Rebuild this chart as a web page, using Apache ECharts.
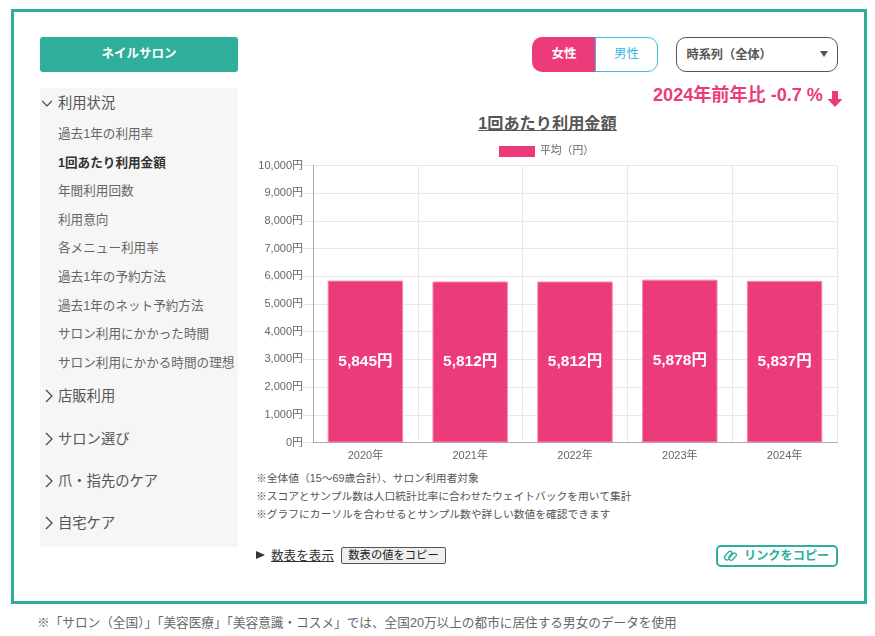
<!DOCTYPE html>
<html>
<head>
<meta charset="utf-8">
<title>1回あたり利用金額</title>
<script src="https://cdn.jsdelivr.net/npm/echarts@6/dist/echarts.min.js"></script>
<style>
html, body { margin: 0; padding: 0; background: #fff; }
body { position: relative; width: 875px; height: 636px; overflow: hidden;
  font-family: "Liberation Sans", "Noto Sans CJK JP", sans-serif; color: #555; }
.abs { position: absolute; white-space: nowrap; box-sizing: border-box; }
.frame { left: 11px; top: 9px; width: 856px; height: 595px; border: 3px solid #2fae9b; }
.brand { left: 40px; top: 37px; width: 198px; height: 35px; background: #2fae9b; border-radius: 3px;
  color: #fff; font-weight: bold; font-size: 12.5px; line-height: 34px; text-align: center; }
.side { left: 40px; top: 88px; width: 198px; height: 459px; background: #f6f6f6; }
.head { left: 58px; font-size: 14.3px; line-height: 20px; color: #555; }
.item { left: 58px; font-size: 12.6px; line-height: 18px; color: #666; }
.item.on { font-weight: bold; color: #333; }
.caret { left: 44px; width: 10px; height: 14px; }
.female { left: 532px; top: 37px; width: 64px; height: 35px; background: #ec3b7a; border-radius: 10px 0 0 10px;
  color: #fff; font-weight: bold; font-size: 12.5px; line-height: 34px; text-align: center; }
.male { left: 595px; top: 37px; width: 63px; height: 35px; border: 1px solid #45b7e6; border-radius: 0 10px 10px 0;
  color: #35b5e5; font-size: 12.5px; line-height: 32px; text-align: center; }
.select { left: 676px; top: 37px; width: 162px; height: 35px; border: 1px solid #555; border-radius: 10px;
  color: #555; font-weight: bold; font-size: 12.2px; line-height: 35px; padding-left: 9.500px; }
.tri { left: 820px; top: 51px; width: 0; height: 0; border-left: 4.5px solid transparent;
  border-right: 4.5px solid transparent; border-top: 6px solid #555; }
.yoy { left: 653px; top: 84px; color: #ec3b7a; font-weight: bold; font-size: 18.1px; line-height: 22px; }
.title { left: 250px; width: 595px; top: 112px; text-align: center; font-weight: bold; font-size: 16.2px;
  line-height: 22px; color: #555; text-decoration: underline; }
#main { left: 250px; top: 135px; width: 600px; height: 330px; }
.note { left: 256px; font-size: 10.75px; line-height: 16px; color: #555; }
.show { left: 271px; top: 547px; font-size: 12.6px; line-height: 18px; color: #333; text-decoration: underline; }
.mark { left: 256px; top: 551px; width: 0; height: 0; border-top: 4.5px solid transparent;
  border-bottom: 4.5px solid transparent; border-left: 9px solid #333; }
.copy { left: 341px; top: 547px; width: 105px; height: 17px; border: 1px solid #555; border-radius: 2px;
  background: #efefef; color: #222; font-size: 11.3px; line-height: 15px; text-align: center; }
.link { left: 716px; top: 545px; width: 122px; height: 22px; border: 2px solid #2fae9b; border-radius: 5px;
  color: #2fae9b; font-weight: bold; font-size: 12.2px; line-height: 18px; padding-left: 26px; }
.foot { left: 37px; top: 614px; font-size: 12.65px; line-height: 18px; color: #666; }
</style>
</head>
<body>
<div class="abs frame"></div>
<div class="abs brand">ネイルサロン</div>
<div class="abs side"></div>
<div id="nav"></div>

<div class="abs female">女性</div>
<div class="abs male">男性</div>
<div class="abs select">時系列（全体）</div>
<div class="abs tri"></div>
<div class="abs yoy">2024年前年比 -0.7 %</div>
<svg class="abs" style="left:827px;top:91px" width="16" height="16" viewBox="0 0 16 16">
  <path d="M5 0h6v8h4.500L8 16 .5 8H5z" fill="#ec3b7a"/>
</svg>

<div class="abs title">1回あたり利用金額</div>
<div class="abs" id="main"></div>

<div id="notes"></div>
<div class="abs mark"></div>
<div class="abs show">数表を表示</div>
<div class="abs copy">数表の値をコピー</div>
<div class="abs link">リンクをコピー</div>
<svg class="abs" style="left:723px;top:549px" width="15" height="14" viewBox="0 0 15 14" fill="none" stroke="#2fae9b" stroke-width="1.4">
  <path d="M6 9 L10 4.500 a2 2 0 0 1 3 2.600 L9.500 11 a2.500 2.500 0 0 1 -3.600 -3 L9 4 a2 2 0 0 0 -3 -1.500 L2 7 a2.500 2.500 0 0 0 3.500 3.500"/>
</svg>
<div class="abs foot">※「サロン（全国）」「美容医療」「美容意識・コスメ」では、全国20万以上の都市に居住する男女のデータを使用</div>

<script type="text/javascript">
// データ
const years = ['2020年', '2021年', '2022年', '2023年', '2024年'];
const averages = [5845, 5812, 5812, 5878, 5837];
const seriesName = '平均（円）';

// 左メニューと注記
const subItems = ['過去1年の利用率', '1回あたり利用金額', '年間利用回数', '利用意向', '各メニュー利用率',
  '過去1年の予約方法', '過去1年のネット予約方法', 'サロン利用にかかった時間', 'サロン利用にかかる時間の理想'];
const subTops = [125, 154, 182, 211, 239, 268, 297, 325, 354];
const closedItems = ['店販利用', 'サロン選び', '爪・指先のケア', '自宅ケア'];
const closedTops = [386, 429, 471, 513];
const notes = ['※全体値（15〜69歳合計）、サロン利用者対象',
  '※スコアとサンプル数は人口統計比率に合わせたウェイトバックを用いて集計',
  '※グラフにカーソルを合わせるとサンプル数や詳しい数値を確認できます'];
const noteTops = [470, 488, 506];

function addText(parent, cls, text, top) {
  const el = document.createElement('div');
  el.className = 'abs ' + cls;
  el.style.top = top + 'px';
  el.textContent = text;
  parent.appendChild(el);
}
function addCaret(parent, top, open) {
  const path = open ? 'M0 5 L5 10 L10 5' : 'M2 1 L8 7 L2 13';
  const left = open ? 42 : 44;
  parent.insertAdjacentHTML('beforeend',
    '<svg class="abs caret" style="top:' + top + 'px;left:' + left + 'px" viewBox="0 0 10 14" fill="none" stroke="#444" stroke-width="1.200"><path d="' + path + '"/></svg>');
}
const nav = document.getElementById('nav');
addCaret(nav, 96, true);
addText(nav, 'head', '利用状況', 93);
subItems.forEach(function (name, i) {
  addText(nav, i === 1 ? 'item on' : 'item', name, subTops[i]);
});
closedItems.forEach(function (name, i) {
  addCaret(nav, closedTops[i] + 3, false);
  addText(nav, 'head', name, closedTops[i]);
});
const noteBox = document.getElementById('notes');
notes.forEach(function (text, i) {
  addText(noteBox, 'note', text, noteTops[i]);
});

// グラフ
const chart = echarts.init(document.getElementById('main'));
const chartFont = '"Liberation Sans", "Noto Sans CJK JP", sans-serif';
chart.setOption({
  animation: false,
  textStyle: { fontFamily: chartFont },
  legend: {
    data: [{ name: seriesName, icon: 'rect', itemStyle: { borderWidth: 0 } }],
    top: 6,
    left: 244,
    itemWidth: 36,
    itemHeight: 11,
    textStyle: { color: '#666', fontSize: 10.8, fontFamily: chartFont }
  },
  grid: { left: 63, right: 13, top: 30.500, bottom: 22.500 },
  xAxis: {
    type: 'category',
    data: years,
    axisLine: { lineStyle: { color: '#aaa' } },
    axisTick: { length: 8, lineStyle: { color: '#e5e5e5' } },
    splitLine: { show: true, lineStyle: { color: '#e8e8e8' } },
    axisLabel: { color: '#666', fontSize: 11, margin: 8, fontFamily: chartFont }
  },
  yAxis: {
    type: 'value',
    min: 0,
    max: 10000,
    interval: 1000,
    axisLine: { show: true, lineStyle: { color: '#aaa' } },
    axisTick: { show: true, length: 10, lineStyle: { color: '#e5e5e5' } },
    splitLine: { lineStyle: { color: '#e8e8e8', type: 'solid' } },
    axisLabel: {
      color: '#666',
      fontSize: 11,
      margin: 10,
      fontFamily: chartFont,
      formatter: function (v) { return v.toLocaleString('en-US') + '円'; }
    }
  },
  series: [{
    name: seriesName,
    type: 'bar',
    data: averages,
    barWidth: '72%',
    itemStyle: { color: '#ec3b7a', borderColor: '#f48bb0', borderWidth: 1 },
    label: {
      show: true,
      position: 'inside',
      color: '#fff',
      fontSize: 15.5,
      fontWeight: 'bold',
      fontFamily: chartFont,
      formatter: function (p) { return p.value.toLocaleString('en-US') + '円'; }
    }
  }]
});
</script>
</body>
</html>
